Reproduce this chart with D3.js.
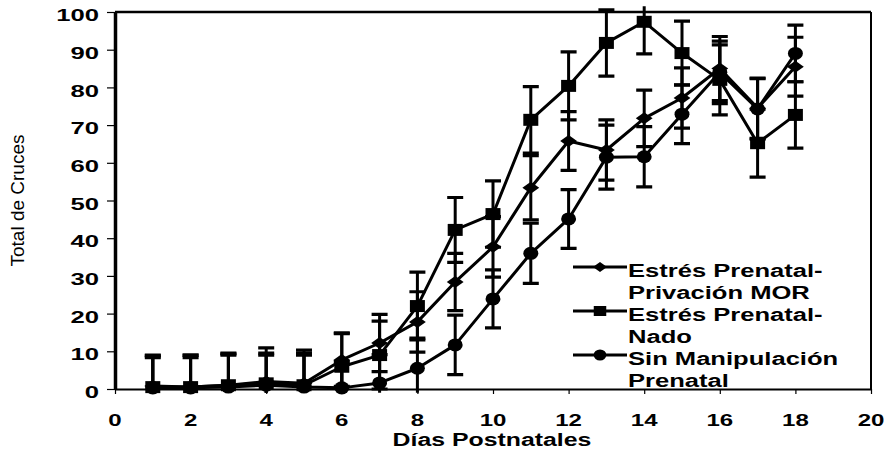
<!DOCTYPE html>
<html>
<head>
<meta charset="utf-8">
<script src="https://cdn.jsdelivr.net/npm/d3@7"></script>
<style>
  html, body { margin: 0; padding: 0; background: #fff; overflow: hidden; }
  svg { display: block; }
  text { font-family: "Liberation Sans", Arial, sans-serif; fill: #000; }
</style>
</head>
<body>
<div id="chart"></div>
<script>
// Days on the x axis
const days = [1, 2, 3, 4, 5, 6, 7, 8, 9, 10, 11, 12, 13, 14, 15, 16, 17, 18];

// Estrés Prenatal-Privación MOR (diamonds)
const morValues = [0.8, 0.5, 1, 2, 1.5, 7.7, 12.2, 17.8, 28.4, 37.7, 53.4, 65.8, 63.4, 71.8, 77.2, 85, 74.5, 85.5];
const morErrors = [8, 8.5, 8.5, 8.9, 8.8, 7, 7.6, 8, 7.6, 8, 8.5, 7.8, 8, 7.5, 8, 8.5, 8, 7.8];

// Estrés Prenatal-Nado (squares)
const nadoValues = [0.5, 0.5, 1, 1.5, 1, 5.9, 9, 22, 42.2, 46.4, 71.4, 80.4, 91.8, 97.4, 89.1, 82, 65.2, 72.7];
const nadoErrors = [8.5, 8.5, 8.3, 8, 8.5, 9, 9, 9, 8.6, 8.8, 8.8, 9, 8.8, 8.5, 8.5, 9.3, 9, 8.8];

// Sin Manipulación Prenatal (circles)
const sinValues = [0.3, 0.3, 0.5, 1, 0.5, 0.3, 1.6, 5.5, 11.7, 23.9, 36, 45.1, 61.5, 61.6, 72.9, 84, 74.3, 89];
const sinErrors = [8, 8, 8.5, 8, 8.5, 7, 7.5, 8, 7.9, 7.7, 8, 7.8, 8.5, 8, 7.8, 8.3, 8, 7.5];

const xTicks = [0, 2, 4, 6, 8, 10, 12, 14, 16, 18, 20];
const yTicks = [0, 10, 20, 30, 40, 50, 60, 70, 80, 90, 100];

const series = [
  { name: ["Estrés Prenatal-", "Privación MOR"], marker: "diamond", values: morValues, errors: morErrors },
  { name: ["Estrés Prenatal-", "Nado"], marker: "square", values: nadoValues, errors: nadoErrors },
  { name: ["Sin Manipulación", "Prenatal"], marker: "circle", values: sinValues, errors: sinErrors }
];

const width = 887, height = 450;
const margin = { top: 12, right: 16, bottom: 61, left: 115 };
const innerWidth = width - margin.left - margin.right;
const innerHeight = height - margin.top - margin.bottom;

const svg = d3.select("#chart")
  .append("svg")
  .attr("width", width)
  .attr("height", height);

svg.append("rect").attr("width", width).attr("height", height).attr("fill", "#fff");

const g = svg.append("g")
  .attr("transform", `translate(${margin.left},${margin.top})`);

// the scanned chart has wide lettering: stretch glyphs with textLength
function widen(sel, factor) {
  sel.each(function() {
    const w = this.getComputedTextLength();
    d3.select(this)
      .attr("textLength", w * factor)
      .attr("lengthAdjust", "spacingAndGlyphs");
  });
}

// 1) Scales
const x = d3.scaleLinear().domain([0, 20]).range([0, innerWidth]);
const y = d3.scaleLinear().domain([0, 100]).range([innerHeight, 0]);

// clip for error bars (Excel cuts them at the plot area)
svg.append("defs").append("clipPath").attr("id", "plotClip")
  .append("rect")
  .attr("x", -10).attr("y", y(101.5))
  .attr("width", innerWidth + 20)
  .attr("height", y(-1) - y(101.5));

// 2) Axes (tick marks from d3, x labels written on the svg directly)
const xAxis = g.append("g")
  .attr("transform", `translate(0,${innerHeight})`)
  .call(d3.axisBottom(x).tickValues(xTicks).tickSize(5).tickSizeOuter(0).tickFormat(""));
xAxis.select(".domain").attr("stroke-width", 2);
xAxis.selectAll(".tick line").attr("stroke-width", 1.2);
xAxis.selectAll(".tick text").remove();

svg.append("g").selectAll("text")
  .data(xTicks)
  .enter().append("text")
  .attr("x", d => margin.left + x(d))
  .attr("y", margin.top + innerHeight + 37)
  .attr("text-anchor", "middle")
  .attr("font-size", 16)
  .attr("font-weight", "bold")
  .text(d => d)
  .call(widen, 1.5);

const yAxis = g.append("g")
  .call(d3.axisLeft(y).tickValues(yTicks).tickSize(8).tickSizeOuter(0));
yAxis.select(".domain").attr("stroke-width", 3.5);
yAxis.selectAll(".tick line").attr("stroke-width", 1.2);
yAxis.selectAll(".tick text")
  .attr("x", -16).attr("y", 3).attr("dy", "0.35em")
  .attr("font-size", 16).attr("font-weight", "bold")
  .style("font-family", "'Liberation Sans', Arial, sans-serif")
  .call(widen, 1.6);

// top and right frame lines
g.append("line")
  .attr("x1", 0).attr("x2", innerWidth)
  .attr("y1", y(100)).attr("y2", y(100))
  .attr("stroke", "#000").attr("stroke-width", 2.5);
g.append("line")
  .attr("x1", x(20)).attr("x2", x(20))
  .attr("y1", y(100)).attr("y2", y(0))
  .attr("stroke", "#000").attr("stroke-width", 2);

// Axis titles
svg.append("text")
  .attr("x", margin.left + x(10) - 1)
  .attr("y", 445.5)
  .attr("text-anchor", "middle")
  .attr("font-size", 18)
  .attr("font-weight", "bold")
  .text("Días Postnatales")
  .call(widen, 1.38);

svg.append("text")
  .attr("transform", `translate(24,${margin.top + innerHeight / 2}) rotate(-90)`)
  .attr("text-anchor", "middle")
  .attr("font-size", 19)
  .text("Total de Cruces");

// 3) Marker shapes (stretched sideways like the scan)
function markerPath(type, big) {
  if (type === "circle") return d3.symbol(d3.symbolCircle, big ? 133 : 95)();
  return d3.symbol(d3.symbolSquare, type === "square" ? (big ? 144 : 100) : (big ? 72 : 50))();
}
function markerTransform(type, px, py) {
  if (type === "diamond") return `translate(${px},${py}) scale(1.4,1) rotate(45)`;
  if (type === "square") return `translate(${px},${py}) scale(1.25,1)`;
  return `translate(${px},${py}) scale(1.15,1)`;
}

const line = d3.line()
  .x((d, i) => x(days[i]))
  .y(d => y(d));

const capHalf = 8;

series.forEach(s => {
  const sg = g.append("g");

  // error bars
  const eb = sg.append("g").attr("clip-path", "url(#plotClip)");
  s.values.forEach((v, i) => {
    const cx = x(days[i]);
    const top = y(v + s.errors[i]);
    const bot = y(v - s.errors[i]);
    eb.append("line")
      .attr("x1", cx).attr("x2", cx).attr("y1", top).attr("y2", bot)
      .attr("stroke", "#000").attr("stroke-width", 3);
    [top, bot].forEach(cy => {
      eb.append("line")
        .attr("x1", cx - capHalf).attr("x2", cx + capHalf)
        .attr("y1", cy).attr("y2", cy)
        .attr("stroke", "#000").attr("stroke-width", 3.2);
    });
  });

  // connecting line
  sg.append("path")
    .datum(s.values)
    .attr("fill", "none")
    .attr("stroke", "#000")
    .attr("stroke-width", 3)
    .attr("stroke-linejoin", "round")
    .attr("d", line);

  // markers
  sg.selectAll("path.marker")
    .data(s.values)
    .enter().append("path")
    .attr("class", "marker")
    .attr("d", markerPath(s.marker, true))
    .attr("transform", (d, i) => markerTransform(s.marker, x(days[i]), y(d)))
    .attr("fill", "#000");
});

// 4) Legend
const legendX = 573, legendY = 267;
series.forEach((s, i) => {
  const ly = legendY + i * 44;
  svg.append("line")
    .attr("x1", legendX).attr("x2", legendX + 54).attr("y1", ly).attr("y2", ly)
    .attr("stroke", "#000").attr("stroke-width", 3);
  svg.append("path")
    .attr("d", markerPath(s.marker, false))
    .attr("transform", markerTransform(s.marker, legendX + 27, ly))
    .attr("fill", "#000");
  s.name.forEach((t, j) => {
    svg.append("text")
      .attr("x", legendX + 55)
      .attr("y", ly + 10 + j * 22)
      .attr("font-size", 18)
      .attr("font-weight", "bold")
      .text(t)
      .call(widen, 1.42);
  });
});
</script>
</body>
</html>
